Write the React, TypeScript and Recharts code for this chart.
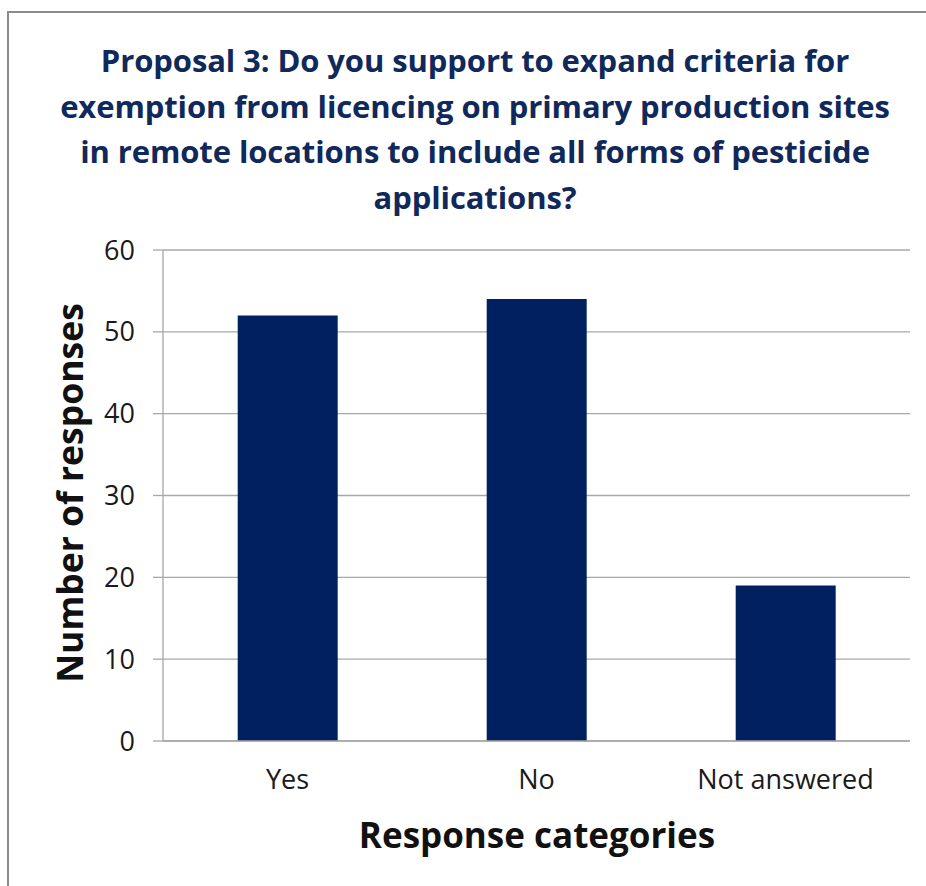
import React from 'react';
import { BarChart, Bar, XAxis, YAxis, CartesianGrid } from 'recharts';

const categories = ['Yes', 'No', 'Not answered'];
const responses = [52, 54, 19];
const yTicks = [0, 10, 20, 30, 40, 50, 60];
const boundaryTicks = [0, 1, 2, 3];
const titleLines = [
  'Proposal 3: Do you support to expand criteria for',
  'exemption from licencing on primary production sites',
  'in remote locations to include all forms of pesticide',
  'applications?',
];
const yTitle = 'Number of responses';
const xTitle = 'Response categories';

const data = categories.map((c, i) => ({ category: c, responses: responses[i] }));

const FONT = '"Open Sans", "Noto Sans", sans-serif';
const GRID = '#a8a8a8';

export default function App() {
  return (
    <div style={{ position: 'absolute', left: 0, top: 0, width: 926, height: 886, background: '#fff', overflow: 'hidden', fontFamily: FONT }}>
      <div style={{ position: 'absolute', left: 7, top: 11, width: 1000, height: 1000, borderLeft: '2px solid #8c8c8c', borderTop: '2px solid #8c8c8c' }} />
      <div style={{ position: 'absolute', left: 0, top: 38, width: 950, textAlign: 'center', color: '#10285a', fontWeight: 700, fontSize: 31, lineHeight: '45.5px', letterSpacing: -0.1 }}>
        {titleLines.map((l, i) => (<div key={i}>{l}</div>))}
      </div>
      <div style={{ position: 'absolute', left: 0, top: 0 }}>
        <BarChart width={926} height={886} data={data} margin={{ top: 250, right: 16, left: 83, bottom: 85 }} barCategoryGap="30%">
          <CartesianGrid xAxisId="cat" vertical={false} stroke={GRID} strokeWidth={1.3} />
          <XAxis xAxisId="grid" type="number" domain={[0, 3]} ticks={boundaryTicks} allowDataOverflow height={0} tick={false} tickSize={8} axisLine={false} tickLine={{ stroke: GRID, strokeWidth: 1.3 }} />
          <XAxis xAxisId="cat" dataKey="category" height={60} tickSize={0} tickMargin={29} axisLine={{ stroke: GRID, strokeWidth: 1.3 }} tickLine={false} tick={{ fill: '#1a1a1a', fontSize: 27, fontFamily: FONT }} />
          <YAxis domain={[0, 60]} ticks={yTicks} width={80} tickSize={10} tickMargin={18} axisLine={{ stroke: GRID, strokeWidth: 1.3 }} tickLine={{ stroke: GRID, strokeWidth: 1.3 }} tick={{ fill: '#1a1a1a', fontSize: 27, fontFamily: FONT }} />
          <Bar xAxisId="cat" dataKey="responses" fill="#002060" isAnimationActive={false} />
        </BarChart>
      </div>
      <div style={{ position: 'absolute', left: 69 - 250, top: 493 - 25, width: 500, height: 50, lineHeight: '50px', textAlign: 'center', transform: 'rotate(-90deg)', fontWeight: 700, fontSize: 35.5, color: '#111' }}>{yTitle}</div>
      <div style={{ position: 'absolute', left: 537 - 250, top: 835 - 25, width: 500, height: 50, lineHeight: '50px', textAlign: 'center', fontWeight: 700, fontSize: 35, color: '#111' }}>{xTitle}</div>
    </div>
  );
}
